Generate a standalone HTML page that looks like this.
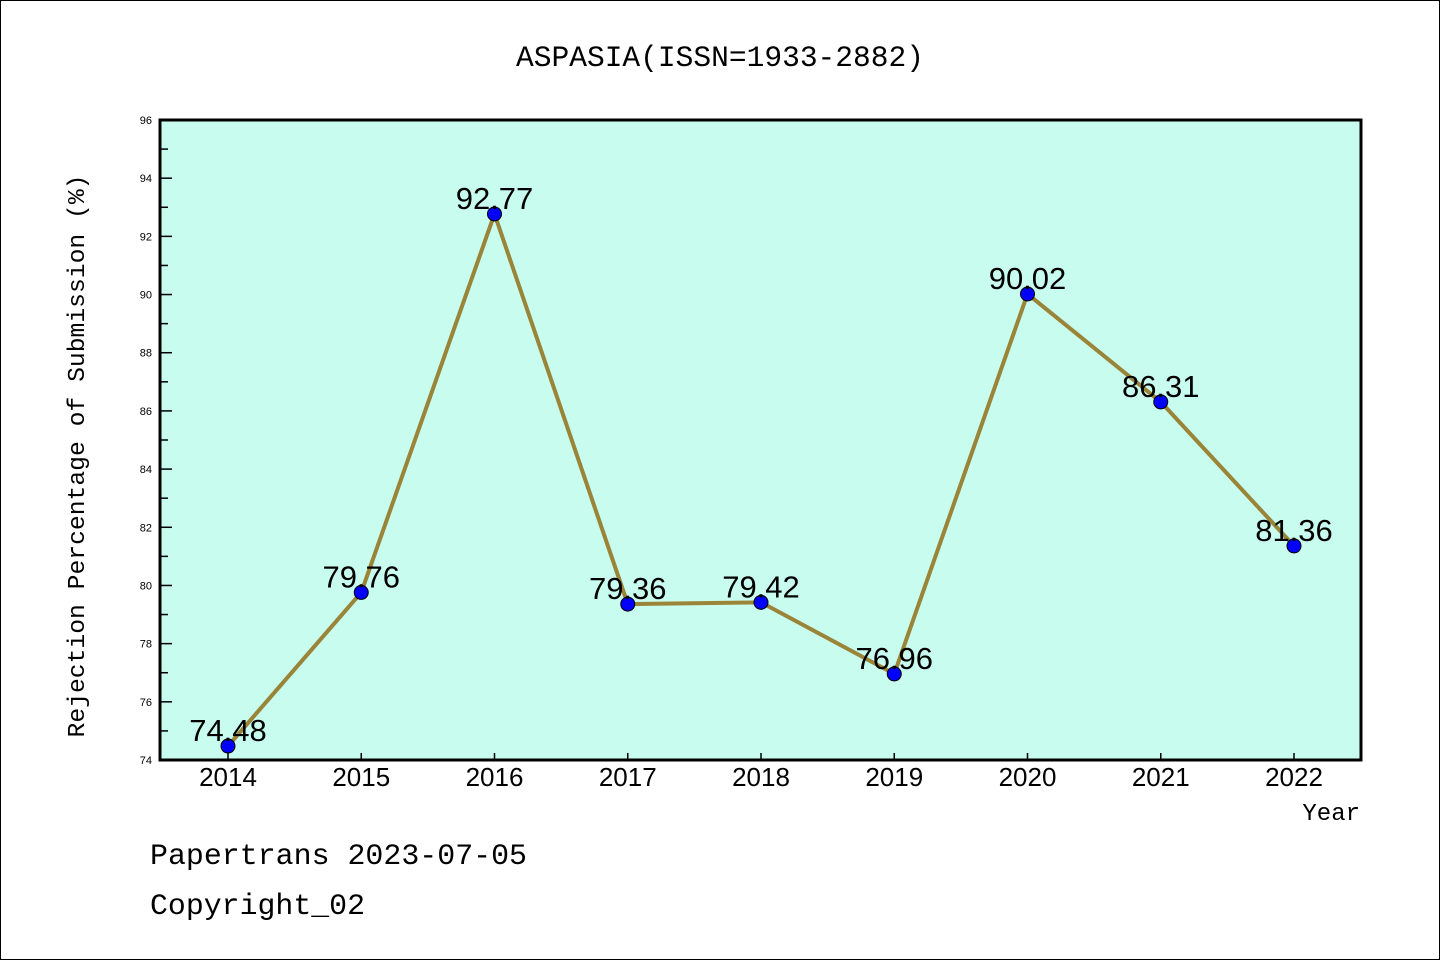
<!DOCTYPE html>
<html><head><meta charset="utf-8"><style>
html,body{margin:0;padding:0;background:#fff}
svg{display:block;font-family:"Liberation Mono","Noto Sans CJK SC",monospace}
</style></head><body>
<svg id="chart" width="1440" height="960" viewBox="0 0 1440 960">
<rect x="0.5" y="0.5" width="1439" height="959" fill="#fff" stroke="#000"/>
<text x="720" y="66" text-anchor="middle" font-size="30" textLength="408" lengthAdjust="spacingAndGlyphs">ASPASIA(ISSN=1933-2882)</text>
<rect x="160" y="120" width="1201" height="640" fill="#c8fcee" stroke="#000" stroke-width="3"/>
<g id="yaxis"></g>
<g id="xaxis"></g>
<g id="series"></g>
<text transform="translate(84,456) rotate(-90)" text-anchor="middle" font-size="24" textLength="563" lengthAdjust="spacingAndGlyphs">Rejection Percentage of Submission (%)</text>
<text x="1360" y="820" text-anchor="end" font-size="24">Year</text>
<text x="150" y="864" font-size="30" textLength="377" lengthAdjust="spacingAndGlyphs">Papertrans 2023-07-05</text>
<text x="150" y="914" font-size="30" textLength="215" lengthAdjust="spacingAndGlyphs">Copyright_02</text>
</svg>
<script>
const categories = ["2014","2015","2016","2017","2018","2019","2020","2021","2022"];
const values = [74.48,79.76,92.77,79.36,79.42,76.96,90.02,86.31,81.36];
const valueLabels = ["74.48","79.76","92.77","79.36","79.42","76.96","90.02","86.31","81.36"];
const yTicks = [74,76,78,80,82,84,86,88,90,92,94,96];
const yMin = 74, yMax = 96;
const NS = "http://www.w3.org/2000/svg";
function X(i){ return 228 + i*(1294-228)/(categories.length-1); }
function Y(v){ return 760 - (v-yMin)/(yMax-yMin)*640; }
function mk(tag, attrs, parent){ const e=document.createElementNS(NS,tag); for(const k in attrs) e.setAttribute(k,attrs[k]); parent.appendChild(e); return e; }
const ya=document.getElementById('yaxis'), xa=document.getElementById('xaxis'), se=document.getElementById('series');
yTicks.forEach((t,i)=>{
  const y=Y(t);
  const l=mk('line',{x1:160,x2:172,y1:y,y2:y,stroke:'#000','stroke-width':1.5},ya);
  
  
  const tx=mk('text',{x:152,y:y+4,'text-anchor':'end','font-size':11,'font-family':'Liberation Sans, sans-serif'},ya);
  tx.textContent=t;
  
  
  if(i<yTicks.length-1){
    const ym=Y(t+1);
    const m=mk('line',{x1:160,x2:168,y1:ym,y2:ym,stroke:'#000','stroke-width':1.5},ya);
    
    
  }
});
categories.forEach((c,i)=>{
  const x=X(i);
  const l=mk('line',{x1:x,x2:x,y1:760,y2:753,stroke:'#000','stroke-width':1.5},xa);
  
  
  const t=mk('text',{x:x,y:786,'text-anchor':'middle','font-size':26,'font-family':'Liberation Sans, sans-serif'},xa);
  t.textContent=c;
  
  
});
const pts=values.map((v,i)=>X(i)+','+Y(v)).join(' ');
const pl=mk('polyline',{points:pts,fill:'none',stroke:'#9a8438','stroke-width':4,'stroke-linejoin':'round'},se);


values.forEach((v,i)=>{
  const c=mk('circle',{cx:X(i),cy:Y(v),r:7,fill:'#0000ff',stroke:'#000','stroke-width':1},se);
  
  
  const t=mk('text',{x:X(i),y:Y(v)-5,'text-anchor':'middle','font-size':31,'font-family':'Liberation Sans, sans-serif'},se);
  t.textContent=valueLabels[i];
  
  
});
</script>
</body></html>
